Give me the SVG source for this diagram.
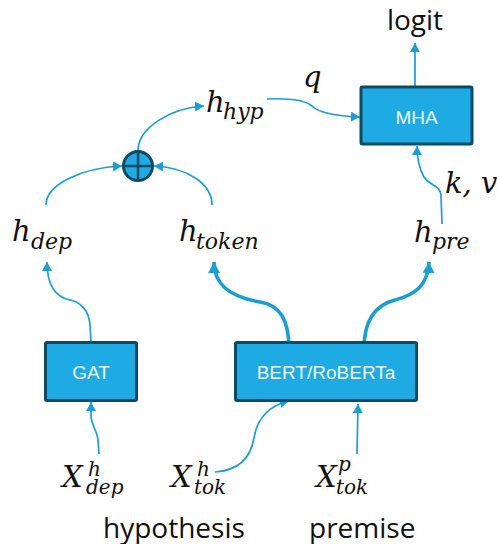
<svg xmlns="http://www.w3.org/2000/svg" width="497" height="544" viewBox="0 0 497 544">
<style>
.box{fill:#1eaae2;stroke:#0d4a63;stroke-width:3}
.lbl{font-family:"Liberation Sans",Arial,sans-serif;font-size:19px;fill:#eef8fd;text-anchor:middle}
.m{font-family:"DejaVu Serif",serif;font-style:italic;fill:#111}
.big{font-size:29px}
.sub{font-size:22px}
.xs{font-size:20px}
.word{font-family:"Open Sans",sans-serif;font-size:28px;fill:#111}
.c{fill:none;stroke:#1a9ed6;stroke-width:1.7;marker-end:url(#ah)}
.t{fill:none;stroke:#1a9ed6;stroke-width:3.6;marker-end:url(#ahb)}
</style>
<defs>
<marker id="ah" markerUnits="userSpaceOnUse" markerWidth="12" markerHeight="12" refX="9" refY="5" orient="auto">
<path d="M0,0 L9,5 L0,10 Z" fill="#1a9ed6"/>
</marker>
<marker id="ahb" markerUnits="userSpaceOnUse" markerWidth="14" markerHeight="14" refX="11" refY="6" orient="auto">
<path d="M0,0 L11,6 L0,12 Z" fill="#1a9ed6"/>
</marker>
</defs>
<g id="connectors">
<path class="c" d="M415,86 L415,43"/>
<path class="c" d="M267,99 C290,98 305,100 312,106 C318,112 335,116 360,117"/>
<path class="c" d="M138,151 C138,128 170,108 204,106"/>
<path class="c" d="M46,205 C46,185 80,168 122,166"/>
<path class="c" d="M212,205 C212,185 190,168 154,166"/>
<path class="c" d="M442,224 L441,195 C440,185 430,186 424,177 C420,170 417,162 417,146"/>
<path class="c" d="M91,342 L90,325 C89,310 80,302 70,300 C55,297 47,285 47,262"/>
<path class="t" d="M289,349 C289,320 280,305 260,302 C230,297 214,285 214,262"/>
<path class="t" d="M364,349 C364,320 375,305 395,300 C415,295 428,285 429,262"/>
<path class="c" d="M99,454 L98,440 C97,430 91,425 91,415 L91,402"/>
<path class="c" d="M215,472 C245,470 252,450 254,438 C257,418 270,405 289,401"/>
<path class="c" d="M357,454 L358,404"/>
</g>
<g id="logit"><text class="word" x="415" y="30" text-anchor="middle">logit</text></g>
<g id="MHA"><rect class="box" x="361" y="87" width="111" height="57" rx="1.5"/><text class="lbl" x="416.5" y="124">MHA</text></g>
<g id="GAT"><rect class="box" x="45.5" y="342.5" width="91" height="58" rx="1.5"/><text class="lbl" x="91" y="379">GAT</text></g>
<g id="BERT"><rect class="box" x="235.5" y="342.5" width="181" height="58" rx="1.5"/><text class="lbl" x="326" y="379">BERT/RoBERTa</text></g>
<g id="oplus">
<circle cx="138" cy="166" r="14.5" fill="#1eaae2" stroke="#0d4a63" stroke-width="3"/>
<path d="M138,151.5 V180.5 M123.5,166 H152.5" stroke="#0d4a63" stroke-width="2.5"/>
</g>
<g id="h_hyp"><text class="m"><tspan class="big" x="206" y="112">h</tspan><tspan class="sub" x="223" y="119">hyp</tspan></text></g>
<g id="q"><text class="m big" x="303" y="87">q</text></g>
<g id="kv"><text class="m big" x="445" y="193" font-size="28">k, v</text></g>
<g id="h_dep"><text class="m"><tspan class="big" x="12" y="241">h</tspan><tspan class="sub" x="31" y="249">dep</tspan></text></g>
<g id="h_token"><text class="m"><tspan class="big" x="179" y="241">h</tspan><tspan class="sub" x="196" y="249">token</tspan></text></g>
<g id="h_pre"><text class="m"><tspan class="big" x="414" y="242">h</tspan><tspan class="sub" x="432" y="249">pre</tspan></text></g>
<g id="X_dep"><text class="m"><tspan class="big" x="62" y="487">X</tspan><tspan class="xs" x="88" y="476">h</tspan><tspan class="xs" x="86" y="494">dep</tspan></text></g>
<g id="X_tok_h"><text class="m"><tspan class="big" x="171" y="487">X</tspan><tspan class="xs" x="197" y="476">h</tspan><tspan class="xs" x="194" y="494">tok</tspan></text></g>
<g id="X_tok_p"><text class="m"><tspan class="big" x="316" y="487">X</tspan><tspan class="xs" x="338" y="471">p</tspan><tspan class="xs" x="336" y="494">tok</tspan></text></g>
<g id="hypothesis"><text class="word" x="103" y="538">hypothesis</text></g>
<g id="premise"><text class="word" x="309" y="538">premise</text></g>
</svg>
